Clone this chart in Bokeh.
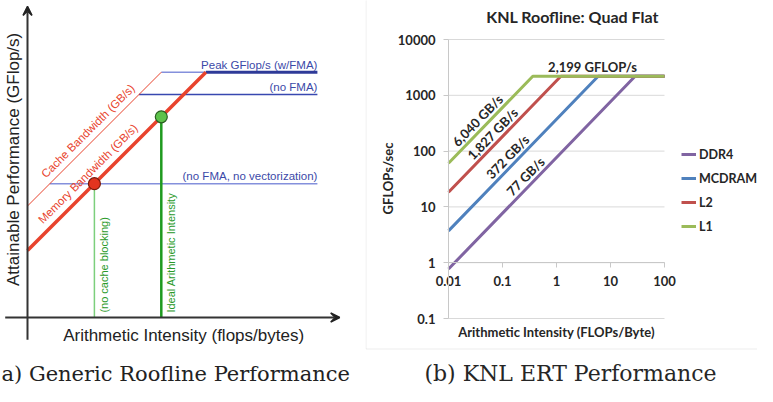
import math
from bokeh.plotting import figure
from bokeh.models import (Range1d, Arrow, VeeHead, Label, Legend, LegendItem,
                          FixedTicker, BoxAnnotation)
from bokeh.layouts import row
from bokeh.embed import file_html
from bokeh.resources import INLINE
from bokeh.core.properties import value

# ---------------- (a) generic roofline schematic (arbitrary units) ----------------
ceiling_names = ["Peak GFlop/s (w/FMA)", "(no FMA)", "(no FMA, no vectorization)"]
ceiling_levels = [11, 10, 6]
bw_names = ["Memory Bandwidth (GB/s)", "Cache Bandwidth (GB/s)"]
bw_intercepts = [3, 5]
ai_names = ["(no cache blocking)", "Ideal Arithmetic Intensity"]
ai_values = [3, 6]
x_end = 13
caption_a = "a) Generic Roofline Performance"

# ---------------- (b) KNL ERT roofline ----------------
levels = ["DDR4", "MCDRAM", "L2", "L1"]
bandwidths = [77, 372, 1827, 6040]
bw_text = ["77 GB/s", "372 GB/s", "1,827 GB/s", "6,040 GB/s"]
label_ai = [0.267, 0.124, 0.0653, 0.0344]
peak = 2199
peak_text = "2,199 GFLOP/s"
peak_label_ai = 4.64
x_ticks = [0.01, 0.1, 1, 10, 100]
x_tick_labels = ["0.01", "0.1", "1", "10", "100"]
y_ticks = [0.1, 1, 10, 100, 1000, 10000]
y_tick_labels = ["0.1", "1", "10", "100", "1000", "10000"]
level_colors = ["#8064a2", "#4f81bd", "#c0504d", "#9bbb59"]
caption_b = "(b) KNL ERT Performance"

# ---------------- styles ----------------
RED = "#e8432d"
LBLUE = "#8490dc"
MBLUE = "#3848b0"
DBLUE = "#2e3a98"
TBLUE = "#3b49a8"
GREEN = "#1f9a1f"
LGREEN = "#7ccf7c"
TGREEN = "#2a9a2a"
INK = "#222222"
DARK = "#262626"
SANS = "Liberation Sans"
SERIF = "DejaVu Serif"
H = 386

# ================= panel (a) =================
U = 22.3                 # px per schematic unit
LW = 365
ox, oy = 27, 317         # schematic origin inside canvas (px from top-left)
pa = figure(width=LW, height=H,
            x_range=Range1d(-ox / U, (LW - ox) / U),
            y_range=Range1d(-(H - oy) / U, oy / U),
            x_axis_type=None, y_axis_type=None,
            toolbar_location=None, output_backend="svg", min_border=0)
pa.outline_line_color = None

mem_b, cache_b = bw_intercepts
peak_l, nofma_l, novec_l = ceiling_levels
cache_ridge = peak_l - cache_b
mem_ridge = peak_l - mem_b

# ceilings
pa.line([cache_ridge, mem_ridge], [peak_l, peak_l], line_color=LBLUE, line_width=1.5)
pa.line([mem_ridge, x_end], [peak_l, peak_l], line_color=DBLUE, line_width=3)
pa.line([nofma_l - cache_b, x_end], [nofma_l, nofma_l], line_color=MBLUE, line_width=1.3)
pa.line([novec_l - cache_b, x_end], [novec_l, novec_l], line_color=LBLUE, line_width=1.5)
# bandwidth diagonals
pa.line([0, cache_ridge], [cache_b, peak_l], line_color=RED, line_width=1)
pa.line([0, mem_ridge], [mem_b, peak_l], line_color=RED, line_width=3.5)
# arithmetic intensity verticals + points
ai_perf = [a + mem_b for a in ai_values]
pa.segment(x0=ai_values, y0=[0, 0], x1=ai_values, y1=ai_perf,
           line_color=[LGREEN, GREEN], line_width=[1.5, 2.5])
pa.scatter(ai_values, ai_perf, size=12, fill_color=["#e3341f", "#5cc24a"],
           line_color=["#7a1a0c", "#2b5e22"], line_width=1.2)

# axes arrows
pa.add_layout(Arrow(end=VeeHead(size=9, fill_color=INK, line_color=INK, line_width=1.5),
                    x_start=-1, y_start=0, x_end=14, y_end=0,
                    line_color="#333333", line_width=2))
pa.add_layout(Arrow(end=VeeHead(size=9, fill_color=INK, line_color=INK, line_width=1.5),
                    x_start=0, y_start=-1, x_end=0, y_end=13.95,
                    line_color="#333333", line_width=2))

# texts
pa.text(x=[x_end] * 3, y=ceiling_levels, text=ceiling_names, text_align="right",
        text_baseline="bottom", y_offset=-1.5, text_font=value(SANS),
        text_font_size="11.5px", text_color=TBLUE)
bw_anchor = [0.94, 1.03]
pa.text(x=bw_anchor, y=[a + b for a, b in zip(bw_anchor, bw_intercepts)], text=bw_names,
        angle=math.pi / 4, x_offset=[-4, -3], y_offset=[-4, -3], text_align="left",
        text_baseline="bottom", text_font=value(SANS), text_font_size="11.5px",
        text_color=RED)
pa.text(x=ai_values, y=[0.22, 0.22], text=ai_names, angle=math.pi / 2, x_offset=16,
        text_align="left", text_baseline="bottom", text_font=value(SANS),
        text_font_size="11px", text_color=TGREEN)
pa.text(x=[-0.63], y=[7.09], text=["Attainable Performance (GFlop/s)"], angle=math.pi / 2,
        text_align="center", text_baseline="middle", text_font=value(SANS),
        text_font_size="17px", text_color=INK)
pa.text(x=[7.0], y=[-0.81], text=["Arithmetic Intensity (flops/bytes)"],
        text_align="center", text_baseline="middle", text_font=value(SANS),
        text_font_size="17px", text_color=INK)
pa.text(x=[-ox / U], y=[-(385 - oy) / U], x_offset=1, text=[caption_a], text_align="left",
        text_baseline="bottom", text_font=value(SERIF), text_font_size="21px",
        text_color=INK)

# ================= panel (b) =================
RW = 392
FL, FR, FT, FB = 83, 299, 39, 318   # plot area of the chart inside this canvas (px)
xd = (FR - FL) / (len(x_ticks) - 1)  # px per decade
yd = (FB - FT) / (len(y_ticks) - 1)
lx0, lx1 = math.log10(x_ticks[0]), math.log10(x_ticks[-1])
ly0, ly1 = math.log10(y_ticks[0]), math.log10(y_ticks[-1])
pb = figure(width=RW, height=H, x_axis_type="log", y_axis_type="log",
            x_range=Range1d(10 ** (lx0 - FL / xd), 10 ** (lx1 + (RW - FR) / xd)),
            y_range=Range1d(10 ** (ly0 - (H - FB) / yd), 10 ** (ly1 + FT / yd)),
            toolbar_location=None, output_backend="svg", min_border=0)
pb.outline_line_color = None
for g in pb.grid:
    g.visible = False

# horizontal grid lines between the axis bounds
pb.segment(x0=[x_ticks[0]] * len(y_ticks), x1=[x_ticks[-1]] * len(y_ticks),
           y0=y_ticks, y1=y_ticks, line_color="#d9d9d9", line_width=1)

xa = pb.xaxis[0]
ya = pb.yaxis[0]
xa.fixed_location = 1
ya.fixed_location = x_ticks[0]
xa.bounds = (x_ticks[0], x_ticks[-1])
ya.bounds = (y_ticks[0], y_ticks[-1])
xa.ticker = FixedTicker(ticks=x_ticks)
ya.ticker = FixedTicker(ticks=y_ticks)
xa.major_label_overrides = dict(zip(x_ticks, x_tick_labels))
ya.major_label_overrides = dict(zip(y_ticks, y_tick_labels))
for ax in (xa, ya):
    ax.axis_line_color = "#c8c8c8"
    ax.major_tick_line_color = "#c8c8c8"
    ax.minor_tick_line_color = None
    ax.major_tick_in = 0
    ax.major_tick_out = 5
    ax.major_label_standoff = 8
    ax.major_label_text_font = "Lato"
    ax.major_label_text_font_style = "bold"
    ax.major_label_text_font_size = "13px"
    ax.major_label_text_color = DARK

renderers = []
for name, bw, c in zip(levels, bandwidths, level_colors):
    ridge = peak / bw
    r = pb.line([x_ticks[0], ridge, x_ticks[-1]], [bw * x_ticks[0], peak, peak],
                line_color=c, line_width=3)
    renderers.append(r)

ANG = math.atan2(yd, xd)
pb.text(x=label_ai, y=[b * a for b, a in zip(bandwidths, label_ai)], text=bw_text,
        angle=ANG, y_offset=-13, text_align="center", text_baseline="middle",
        text_font=value("Lato"), text_font_style="bold", text_font_size="13px",
        text_color=DARK)
pb.text(x=[peak_label_ai], y=[peak], text=[peak_text], y_offset=-9, text_align="center",
        text_baseline="middle", text_font=value("Lato"), text_font_style="bold",
        text_font_size="13px", text_color=DARK)

legend = Legend(items=[LegendItem(label=n, renderers=[r]) for n, r in zip(levels, renderers)],
                location=(316, 150), orientation="vertical", padding=0, margin=0, spacing=4,
                glyph_width=15, glyph_height=20, label_height=20, label_standoff=3,
                border_line_color=None, background_fill_alpha=0,
                label_text_font="Lato", label_text_font_style="bold",
                label_text_font_size="12.5px", label_text_color=DARK)
pb.add_layout(legend)

def slabel(text, x, y, size, angle=0.0, font="Lato", style="bold", baseline="middle"):
    pb.add_layout(Label(x=x, y=y, x_units="screen", y_units="screen", text=text,
                        angle=angle, text_align="center", text_baseline=baseline,
                        text_font=font, text_font_style=style, text_font_size=size,
                        text_color=DARK))

slabel("KNL Roofline: Quad Flat", 207, H - 16, "16px")
slabel("GFLOPs/sec", 22, H - 178, "13px", angle=math.pi / 2)
slabel("Arithmetic Intensity (FLOPs/Byte)", 191, H - 331, "13px")
slabel(caption_b, 205, H - 385, "22px", font=SERIF, style="normal", baseline="bottom")

pb.add_layout(BoxAnnotation(left=0.5, right=RW + 20, bottom=H - 349 + 0.5, top=H + 20,
                            left_units="screen", right_units="screen",
                            bottom_units="screen", top_units="screen",
                            fill_alpha=0, line_color="#bfbfbf", line_width=1))

layout = row(pa, pb)
open("out.html", "w").write(file_html(layout, INLINE))
